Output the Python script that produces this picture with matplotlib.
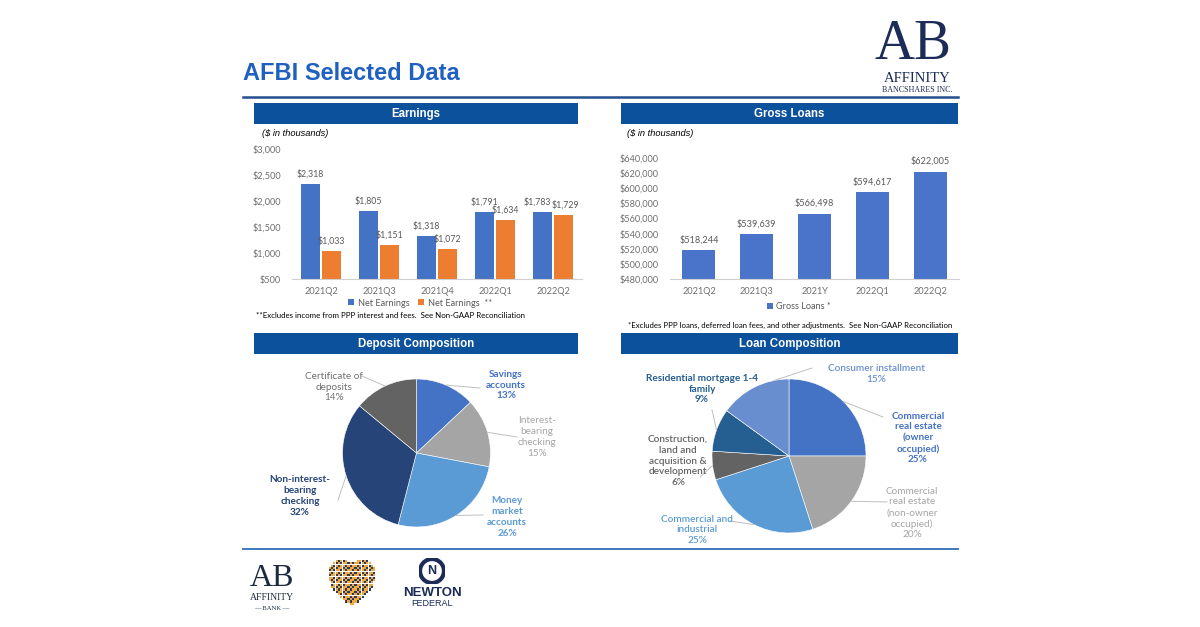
import numpy as np
import matplotlib.pyplot as plt
from matplotlib.patches import Rectangle, Circle
from matplotlib.lines import Line2D

# ---- data ----
earn_quarters = ['2021Q2', '2021Q3', '2021Q4', '2022Q1', '2022Q2']
net_earnings = [2318, 1805, 1318, 1791, 1783]
net_earnings_adj = [1033, 1151, 1072, 1634, 1729]

loan_periods = ['2021Q2', '2021Q3', '2021Y', '2022Q1', '2022Q2']
gross_loans = [518244, 539639, 566498, 594617, 622005]

deposit_labels = ['Savings\naccounts', 'Interest-\nbearing\nchecking', 'Money\nmarket\naccounts',
                  'Non-interest-\nbearing\nchecking', 'Certificate of\ndeposits']
deposit_pct = [13, 15, 26, 32, 14]

loan_labels = ['Commercial\nreal estate\n(owner\noccupied)', 'Commercial\nreal estate\n(non-owner\noccupied)',
               'Commercial and\nindustrial', 'Construction,\nland and\nacquisition &\ndevelopment',
               'Residential mortgage 1-4\nfamily', 'Consumer installment']
loan_pct = [25, 20, 25, 6, 9, 15]

# ---- layout helpers (pixel coords, origin top-left) ----
W, H = 1200, 627
fig = plt.figure(figsize=(12, 6.27), dpi=100)
fig.patch.set_facecolor('white')


def px_axes(x0, y0, x1, y1):
    return fig.add_axes([x0 / W, 1 - y1 / H, (x1 - x0) / W, (y1 - y0) / H])


def ftext(x, y, s, **kw):
    kw.setdefault('ha', 'center')
    kw.setdefault('va', 'center')
    return fig.text(x / W, 1 - y / H, s, **kw)


def frect(x0, y0, x1, y1, color):
    fig.add_artist(Rectangle((x0 / W, 1 - y1 / H), (x1 - x0) / W, (y1 - y0) / H,
                             transform=fig.transFigure, color=color, lw=0))


def fline(x0, y0, x1, y1, **kw):
    fig.add_artist(Line2D([x0 / W, x1 / W], [1 - y0 / H, 1 - y1 / H],
                          transform=fig.transFigure, **kw))


SANS = 'Liberation Sans'
BODY = 'Lato'
HDR = '#0B519C'
NAVY = '#1C2C57'
GRAY_TXT = '#6E6E6E'

# ---- title and rules ----
ftext(243, 74, 'AFBI Selected Data', ha='left', fontsize=17, fontweight='bold',
      color='#2060C0', family=SANS)
fline(243, 97, 958, 97, color='#24508F', lw=1.8)
fline(243, 549, 958, 549, color='#2E6DB8', lw=1.3)

# top-right logo
ftext(913, 45, 'AB', fontsize=40, color=NAVY, family='Liberation Serif')
ftext(917, 78, 'AFFINITY', fontsize=10.5, color=NAVY, family='Liberation Serif')
ftext(917, 90, 'BANCSHARES INC.', fontsize=5.8, color=NAVY, family='Liberation Serif')

# ---- section headers ----
for (x0, x1, y0, y1, t) in [(254, 578, 103, 124, 'Earnings'), (621, 958, 103, 124, 'Gross Loans'),
                            (254, 578, 333, 354, 'Deposit Composition'),
                            (621, 958, 333, 354, 'Loan Composition')]:
    frect(x0, y0, x1, y1, HDR)
    ftext((x0 + x1) / 2, (y0 + y1) / 2 + 0.5, t, fontsize=8.3, fontweight='bold',
          color='white', family=SANS)

ftext(262, 133, '($ in thousands)', ha='left', fontsize=6.7, style='italic', family=SANS)
ftext(627, 133, '($ in thousands)', ha='left', fontsize=6.7, style='italic', family=SANS)


def style_bar_axes(ax):
    for s in ['top', 'right', 'left']:
        ax.spines[s].set_visible(False)
    ax.spines['bottom'].set_color('#D0D0D0')
    ax.tick_params(length=0, labelsize=6.6, labelcolor=GRAY_TXT)
    ax.set_facecolor('none')
    for lab in ax.get_xticklabels() + ax.get_yticklabels():
        lab.set_family(BODY)


# ---- Earnings bar chart ----
ax1 = px_axes(292, 149, 582, 279)
x = np.arange(len(earn_quarters))
b1 = ax1.bar(x - 0.18, net_earnings, 0.32, color='#4472C4', label='Net Earnings')
b2 = ax1.bar(x + 0.18, net_earnings_adj, 0.32, color='#ED7D31', label='Net Earnings  **')
ax1.set_xlim(-0.5, 4.5)
ax1.set_ylim(500, 3000)
ax1.set_yticks(range(500, 3001, 500))
ax1.set_yticklabels([f'${v:,}' for v in range(500, 3001, 500)])
ax1.set_xticks(x)
ax1.set_xticklabels(earn_quarters)
ax1.tick_params(axis='y', pad=8)
ax1.tick_params(axis='x', pad=6)
style_bar_axes(ax1)
for rb, ro in zip(b1, b2):
    # nudge the pair apart when both labels sit at nearly the same height
    close = abs(rb.get_height() - ro.get_height()) < 120
    for r, dx in ((rb, -4 if close else 0), (ro, 1 if close else 0)):
        ax1.annotate(f'${r.get_height():,.0f}', (r.get_x() + r.get_width() / 2, r.get_height()),
                     xytext=(dx, 4), textcoords='offset points', ha='center', va='bottom',
                     fontsize=6.3, color='#595959', family=BODY)
ax1.legend(loc='center', bbox_to_anchor=(420 / W, 1 - 303 / H), bbox_transform=fig.transFigure,
           ncol=2, frameon=False, prop={'family': BODY, 'size': 6.6}, labelcolor='#595959',
           handlelength=0.6, handleheight=0.6, handletextpad=0.4, columnspacing=1.0)
ftext(256, 316, '**Excludes income from PPP interest and fees.  See Non-GAAP Reconciliation',
      ha='left', fontsize=5.7, family=BODY)

# ---- Gross loans bar chart ----
ax2 = px_axes(670, 158, 959, 279)
x2 = np.arange(len(loan_periods))
g = ax2.bar(x2, gross_loans, 0.57, color='#4A74C9', label='Gross Loans *')
ax2.set_xlim(-0.5, 4.5)
ax2.set_ylim(480000, 640000)
ax2.set_yticks(range(480000, 640001, 20000))
ax2.set_yticklabels([f'${v:,}' for v in range(480000, 640001, 20000)])
ax2.set_xticks(x2)
ax2.set_xticklabels(loan_periods)
ax2.tick_params(axis='y', pad=8)
ax2.tick_params(axis='x', pad=6)
style_bar_axes(ax2)
for r in g:
    ax2.annotate(f'${r.get_height():,.0f}', (r.get_x() + r.get_width() / 2, r.get_height()),
                 xytext=(0, 4), textcoords='offset points', ha='center', va='bottom',
                 fontsize=6.6, color='#595959', family=BODY)
ax2.legend(loc='center', bbox_to_anchor=(799 / W, 1 - 307 / H), bbox_transform=fig.transFigure,
           frameon=False, prop={'family': BODY, 'size': 6.6}, labelcolor='#595959',
           handlelength=0.6, handleheight=0.6, handletextpad=0.4)
ftext(628, 325, '*Excludes PPP loans, deferred loan fees, and other adjustments.  See Non-GAAP Reconciliation',
      ha='left', fontsize=5.6, family=BODY)


# ---- pies ----
def draw_pie(cx, cy, r, values, labels, colors, layout):
    ax = px_axes(cx - r, cy - r, cx + r, cy + r)
    ax.pie(values, colors=colors, startangle=90, counterclock=False, radius=1,
           wedgeprops={'edgecolor': 'white', 'linewidth': 0.4})
    ax.set_xlim(-1, 1)
    ax.set_ylim(-1, 1)
    ax.set_aspect('equal')
    ax.axis('off')
    cum = np.cumsum([0] + list(values)) / sum(values)
    for i, (lab, v) in enumerate(zip(labels, values)):
        lx, ly, ex, ey, frac, col, wt = layout[i]
        a = 2 * np.pi * (cum[i] + frac * (cum[i + 1] - cum[i]))
        sx, sy = np.sin(a), np.cos(a)
        ax.plot([sx, (ex - cx) / r], [sy, -(ey - cy) / r], color='#BFBFBF', lw=0.7,
                clip_on=False)
        ax.text((lx - cx) / r, -(ly - cy) / r, f'{lab}\n{v}%', ha='center', va='center',
                fontsize=7.2, color=col, fontweight=wt, family=BODY, linespacing=1.25,
                clip_on=False)


dep_colors = ['#4472C4', '#A5A5A5', '#5B9BD5', '#264478', '#636363']
dep_layout = [
    (506, 385, 480, 388, 0.5, '#4472C4', 'bold'),
    (537, 437, 517, 437, 0.5, '#A5A5A5', 'normal'),
    (507, 517, 483, 515, 0.5, '#5B9BD5', 'bold'),
    (300, 496, 338, 500, 0.5, '#264478', 'bold'),
    (334, 387, 362, 376, 0.5, '#707070', 'normal'),
]
draw_pie(416.5, 453, 74, deposit_pct, deposit_labels, dep_colors, dep_layout)

loan_colors = ['#4472C4', '#A5A5A5', '#5B9BD5', '#636363', '#255E91', '#698ED0']
loan_layout = [
    (918, 438, 883, 417, 0.5, '#4472C4', 'bold'),
    (912, 513, 887, 502, 0.5, '#A5A5A5', 'normal'),
    (697, 530, 730, 521, 0.5, '#5B9BD5', 'semibold'),
    (678, 461, 700, 477, 0.5, '#636363', 'semibold'),
    (702, 389, 712, 410, 0.5, '#255E91', 'bold'),
    (876, 374, 812, 368, 0.8, '#698ED0', 'semibold'),
]
draw_pie(789, 456, 77, loan_pct, loan_labels, loan_colors, loan_layout)

# ---- footer logos ----
ftext(272, 578, 'AB', fontsize=23, color='#1B2A3F', family='Liberation Serif')
ftext(272, 598, 'AFFINITY', fontsize=7, color='#1B2A3F', family='Liberation Serif')
ftext(272, 608, '— BANK —', fontsize=4.8, color='#1B2A3F', family='Liberation Serif')

hx = px_axes(325, 556, 379, 610)
hx.axis('off')
gx, gy = np.meshgrid(np.linspace(-1.3, 1.3, 24), np.linspace(-1.2, 1.4, 24))
inside = (gx ** 2 + gy ** 2 - 1) ** 3 - gx ** 2 * gy ** 3 <= 0
ii, jj = np.indices(gx.shape)
hcol = np.where((ii * 7 + jj * 3) % 5 < 2, '#2B3A67', '#F2A93B')
hx.scatter(gx[inside], gy[inside], s=2.2, marker='s', c=hcol[inside], lw=0)
hx.set_xlim(-1.3, 1.3)
hx.set_ylim(-1.15, 1.4)

nx = px_axes(419, 558, 445, 584)
nx.axis('off')
nx.set_aspect('equal')
nx.add_patch(Circle((0, 0), 0.92, fill=False, lw=3, ec='#1C2C57'))
nx.text(0, -0.02, 'N', ha='center', va='center', fontsize=9, fontweight='bold',
        color='#1C2C57', family=SANS)
nx.set_xlim(-1, 1)
nx.set_ylim(-1, 1)
ftext(432, 593, 'NEWTON', fontsize=9.5, fontweight='bold', color='#1C2C57', family=SANS)
ftext(432, 604, 'FEDERAL', fontsize=6.5, color='#1C2C57', family=SANS)

fig.savefig('out.png', dpi=100)
